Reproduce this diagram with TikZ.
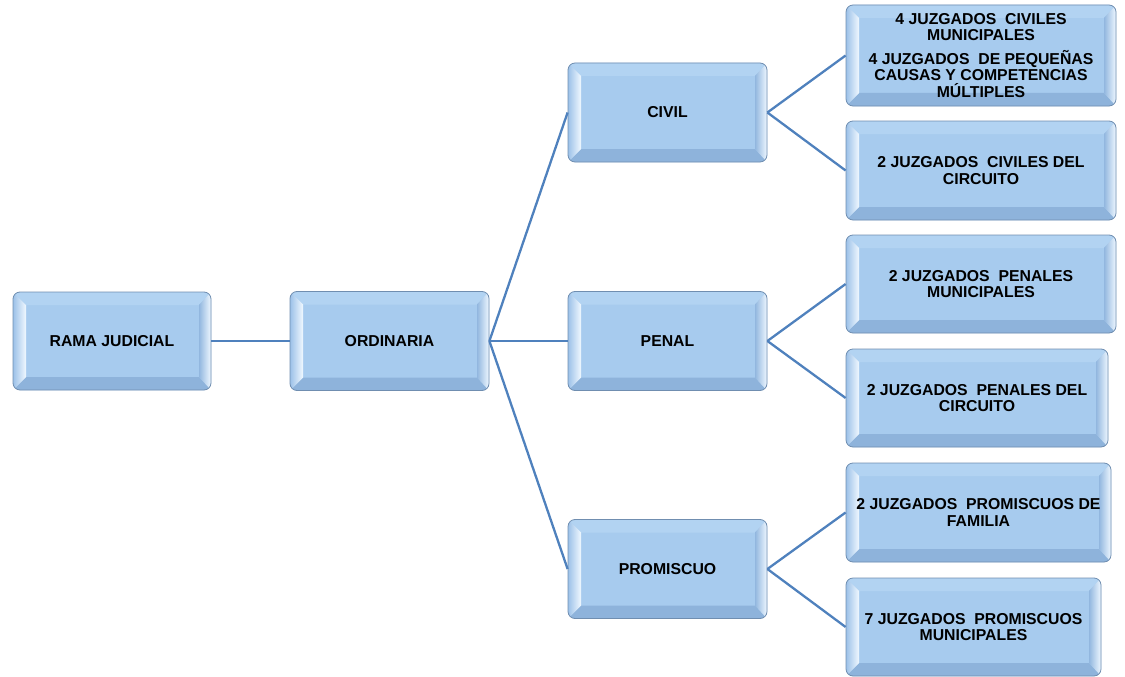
\documentclass[tikz,border=0pt]{standalone}
\usepackage{fontspec}
\setmainfont{Liberation Sans}
\definecolor{facec}{RGB}{167,203,238}
\definecolor{bordc}{RGB}{112,142,176}
\definecolor{linec}{RGB}{79,129,189}
\definecolor{topc}{RGB}{178,211,242}
\definecolor{botc}{RGB}{142,179,219}
\definecolor{lbo}{RGB}{156,193,232}
\definecolor{lbi}{RGB}{240,248,255}
\definecolor{rbi}{RGB}{146,183,223}
\definecolor{rbo}{RGB}{238,247,255}
\newcommand{\boxfont}{\fontsize{15.8}{16.5}\selectfont\bfseries}
\tikzset{
  bevelbox/.style={draw=bordc, line width=0.8pt, rounded corners=7pt, fill=facec,
    align=center, inner sep=0pt, font=\boxfont, text=black,
    path picture={
      \coordinate (@sw) at (path picture bounding box.south west);
      \coordinate (@ne) at (path picture bounding box.north east);
      \coordinate (@nw) at (path picture bounding box.north west);
      \coordinate (@se) at (path picture bounding box.south east);
      \fill[topc, sharp corners] (@nw) -- (@ne) -- ([xshift=-12pt,yshift=-13pt]@ne) -- ([xshift=13pt,yshift=-13pt]@nw) -- cycle;
      \fill[botc, sharp corners] (@sw) -- (@se) -- ([xshift=-12pt,yshift=13pt]@se) -- ([xshift=13pt,yshift=13pt]@sw) -- cycle;
      \shade[sharp corners, left color=lbo, right color=lbi] (@sw) -- (@nw) -- ([xshift=13pt,yshift=-13pt]@nw) -- ([xshift=13pt,yshift=13pt]@sw) -- cycle;
      \shade[sharp corners, left color=rbi, right color=rbo] (@se) -- (@ne) -- ([xshift=-12pt,yshift=-13pt]@ne) -- ([xshift=-12pt,yshift=13pt]@se) -- cycle;
    }},
  conn/.style={draw=linec, line width=2.3pt}
}
\begin{document}
\begin{tikzpicture}[x=1pt,y=-1pt]
\useasboundingbox (0,0) rectangle (1125,677);
\node[bevelbox, minimum width=198pt, minimum height=98pt] (rama) at (112,341) {RAMA JUDICIAL};
\node[bevelbox, minimum width=199pt, minimum height=99pt] (ord) at (389.5,341) {ORDINARIA};
\node[bevelbox, minimum width=199pt, minimum height=99pt] (civil) at (667.5,112.5) {CIVIL};
\node[bevelbox, minimum width=199pt, minimum height=99pt] (penal) at (667.5,341) {PENAL};
\node[bevelbox, minimum width=199pt, minimum height=99pt] (prom) at (667.5,569) {PROMISCUO};
\node[bevelbox, minimum width=270pt, minimum height=101pt] (b1) at (981,55.5)
  {4 JUZGADOS\ \ CIVILES\\MUNICIPALES\\[7pt]4 JUZGADOS\ \ DE PEQUEÑAS\\CAUSAS Y COMPETENCIAS\\MÚLTIPLES};
\node[bevelbox, minimum width=270pt, minimum height=99pt] (b2) at (981,170.5)
  {2 JUZGADOS\ \ CIVILES DEL\\CIRCUITO};
\node[bevelbox, minimum width=270pt, minimum height=98pt] (b3) at (981,284)
  {2 JUZGADOS\ \ PENALES\\MUNICIPALES};
\node[bevelbox, minimum width=262pt, minimum height=98pt] (b4) at (977,398)
  {2 JUZGADOS\ \ PENALES DEL\\CIRCUITO};
\node[bevelbox, minimum width=265pt, minimum height=99pt] (b5) at (978.5,512.5)
  {2 JUZGADOS\ \ PROMISCUOS DE\\FAMILIA};
\node[bevelbox, minimum width=255pt, minimum height=98pt] (b6) at (973.5,627)
  {7 JUZGADOS\ \ PROMISCUOS\\MUNICIPALES};
\draw[conn] (rama.east) -- (ord.west);
\draw[conn] (ord.east) -- (civil.west);
\draw[conn] (ord.east) -- (penal.west);
\draw[conn] (ord.east) -- (prom.west);
\draw[conn] (civil.east) -- (b1.west);
\draw[conn] (civil.east) -- (b2.west);
\draw[conn] (penal.east) -- (b3.west);
\draw[conn] (penal.east) -- (b4.west);
\draw[conn] (prom.east) -- (b5.west);
\draw[conn] (prom.east) -- (b6.west);
\end{tikzpicture}
\end{document}
